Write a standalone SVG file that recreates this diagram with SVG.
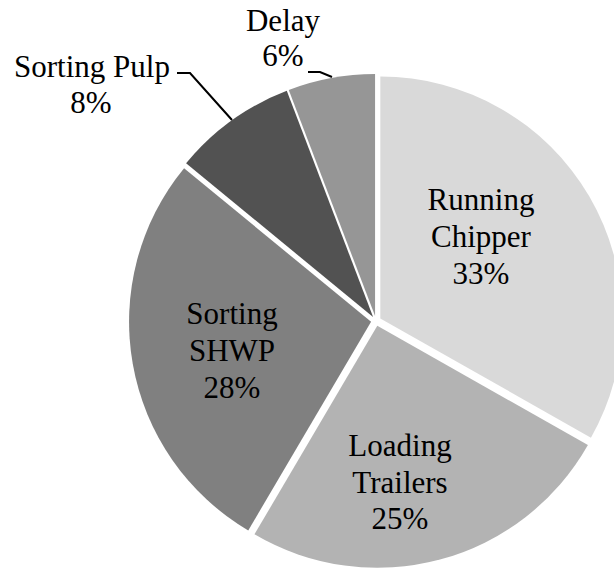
<svg xmlns="http://www.w3.org/2000/svg" width="614" height="569" viewBox="0 0 614 569">
<style>
text{font-family:"Liberation Serif","Times New Roman",serif;font-size:31px;fill:#000;text-anchor:middle}
.leader{fill:none;stroke:#000;stroke-width:2}
</style>
<rect width="614" height="569" fill="#fff"/>
<g id="running-chipper">
<path d="M380.32,318.48 L380.32,76.48 A242,242 0 0 1 590.95,437.65 Z" fill="#d9d9d9"/>
<text x="481" y="210">Running</text>
<text x="481" y="247">Chipper</text>
<text x="481" y="284">33%</text>
</g>
<g id="loading-trailers">
<path d="M377.29,325.83 L587.92,445.00 A242,242 0 0 1 254.47,534.34 Z" fill="#b3b3b3"/>
<text x="400" y="456">Loading</text>
<text x="400" y="493">Trailers</text>
<text x="400" y="529">25%</text>
</g>
<g id="sorting-shwp">
<path d="M371.08,321.87 L248.26,530.38 A242,242 0 0 1 184.08,168.24 Z" fill="#808080"/>
<text x="232" y="324">Sorting</text>
<text x="232" y="361">SHWP</text>
<text x="232" y="398">28%</text>
</g>
<g id="sorting-pulp">
<path d="M373.08,316.94 L186.08,163.31 A242,242 0 0 1 286.75,90.86 Z" fill="#525252"/>
<text x="92" y="77">Sorting Pulp</text>
<text x="91" y="113">8%</text>
</g>
<g id="delay">
<path d="M375.09,316.08 L288.76,90.00 A242,242 0 0 1 375.09,74.08 Z" fill="#969696"/>
<text x="283" y="31">Delay</text>
<text x="283" y="66">6%</text>
</g>
<g id="connectors">
<polyline class="leader" points="177,73 190,73 232,120"/>
<polyline class="leader" points="308,72 320,72 332,77"/>
</g>
</svg>
